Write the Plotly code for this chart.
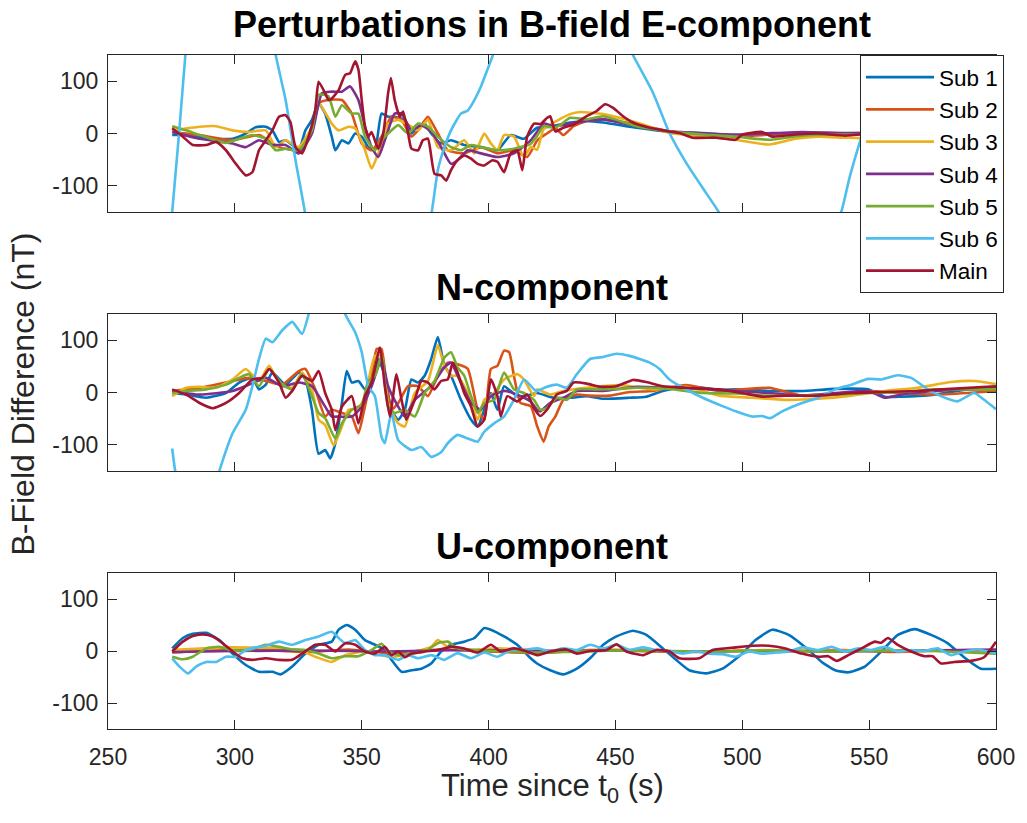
import plotly.graph_objects as go

# ---------------- colours / names ----------------
NAMES = ["Sub 1", "Sub 2", "Sub 3", "Sub 4", "Sub 5", "Sub 6", "Main"]
COLORS = ["#0072BD", "#D95319", "#EDB120", "#7E2F8E", "#77AC30", "#4DBEEE", "#A2142F"]
PANEL_TITLES = ["Perturbations in B-field E-component", "N-component", "U-component"]
X_TICKS = [250, 300, 350, 400, 450, 500, 550, 600]
Y_TICKS = [-100, 0, 100]

# ---------------- E component ----------------
E_SUB1_T = [275.3, 280.8, 286.1, 292.6, 299.1, 304.3, 308.2, 312.2, 314.8, 317.4, 320.0, 322.6, 325.2, 327.8, 330.4, 333.0, 335.6, 338.2, 339.6, 342.2, 344.8, 347.4, 350.0, 352.6, 355.2, 357.8, 360.4, 363.0, 367.0, 369.6, 372.2, 374.8, 377.4, 381.3, 385.2, 390.4, 397.0, 403.5, 408.7, 413.9, 419.1, 424.4, 432.1, 438.7, 445.2, 458.3, 471.3, 484.4, 497.4, 510.5, 523.5, 540.5, 555, 570, 585, 600]
E_SUB1_V = [-3, -3, -6, -10, -10, 0, 12, 13, 6, -16, -13, -22, -32, 6, 26, 58, 38, -6, -32, -13, -19, 0, -6, -26, -32, 38, 32, 32, 26, 0, 13, 19, 0, -19, -13, -22, -26, -32, -3, -10, 11, 13, 21, 24, 21, 11, 3, 1, -4, -2, 1, -2, 2, 0, 3, -4]

E_SUB2_T = [275.3, 286.1, 299.1, 309.5, 317.4, 325.2, 330.4, 333.0, 336.9, 342.2, 346.1, 350.0, 353.9, 357.8, 361.7, 365.7, 369.6, 372.2, 376.1, 380.0, 383.9, 390.4, 397.0, 403.5, 410.0, 415.2, 419.2, 423.0, 426.3, 429.5, 433.5, 438.7, 445.2, 458.3, 471.3, 484.4, 497.4, 510.5, 523.5, 540.5, 555, 575, 600]
E_SUB2_V = [3, -3, -13, -3, -26, -32, 13, 58, 64, 64, 38, -19, -32, -6, 32, 26, -6, 6, 32, 0, -32, -38, -26, -38, -32, -45, -13, 0, 10, -3, 14, 24, 27, 17, 4, -2, -6, -2, 1, -2, -3, 2, -2]

E_SUB3_T = [275.3, 286.1, 292.6, 299.1, 305.6, 312.2, 316.1, 320.0, 325.2, 330.4, 333.0, 338.2, 340.9, 344.8, 347.4, 351.3, 353.9, 356.5, 360.4, 364.4, 369.6, 372.2, 376.1, 380.0, 385.2, 390.4, 394.4, 398.3, 400.9, 403.5, 406.1, 410.0, 413.9, 416.6, 419.1, 421.7, 426.9, 432.1, 436.1, 445.2, 458.3, 471.3, 484.4, 497.4, 510.5, 520.9, 530.0, 540.5, 555, 575, 600]
E_SUB3_V = [6, 13, 14, 6, 3, 6, -26, -13, -26, 13, 58, 19, 6, 13, 10, -32, -67, -38, 19, 26, 13, 6, 26, -26, -32, -13, -38, 0, -19, -32, -3, -6, -45, -26, -31, 8, 24, 37, 41, 37, 21, 1, -5, -12, -21, -10, -6, -8, -10, -6, -3]

E_SUB4_T = [275.3, 286.1, 299.1, 304.3, 309.5, 314.8, 320.0, 325.2, 330.4, 334.3, 338.2, 342.2, 345.4, 348.7, 351.3, 353.9, 356.5, 359.1, 363.0, 365.7, 369.6, 373.5, 377.4, 381.3, 385.2, 387.8, 391.8, 397.0, 403.5, 410.0, 416.6, 421.8, 425.6, 438.7, 445.2, 458.3, 471.3, 497.4, 523.5, 540.5, 560, 580, 600]
E_SUB4_V = [3, -10, -19, -26, -13, -22, -22, -38, 0, 77, 80, 80, 90, 64, 13, -26, -45, -13, 38, 38, 6, 16, 3, -26, -58, -51, -32, -38, -45, -38, -13, 19, 14, 24, 27, 14, 4, -2, 3, 1, 2, 0, 1]

E_SUB5_T = [275.3, 280.8, 286.1, 292.6, 296.5, 301.7, 306.9, 312.2, 316.1, 320.0, 325.2, 330.4, 333.0, 336.9, 339.6, 342.2, 346.1, 348.7, 351.3, 355.2, 357.8, 360.4, 364.4, 368.3, 372.2, 376.1, 380.0, 385.2, 389.1, 393.1, 397.0, 403.5, 410.0, 416.6, 419.1, 421.7, 425.6, 428.0, 432.1, 438.7, 445.2, 458.3, 471.3, 484.4, 497.4, 510.5, 523.5, 540.5, 560, 580, 600]
E_SUB5_V = [14, 6, -3, -13, -18, -10, -3, -10, -32, -29, -32, 6, 74, 71, 32, 54, 38, 38, -6, -32, -13, 0, 16, 0, 19, 13, -6, -26, -32, -22, -26, -32, -29, -20, -5, 14, 11, 15, 30, 27, 33, 14, 4, -2, -6, -12, -4, -2, -3, 1, 0]

E_SUB6_T = [275.3, 278.0, 280.5, 284.0, 290.0, 298.0, 306.0, 312.0, 316.1, 320.0, 323.9, 327.5, 333.0, 345.0, 360.0, 370.0, 377.7, 380.0, 382.6, 385.2, 389.1, 391.8, 394.4, 397.0, 401.5, 410.0, 425.0, 440.0, 450.0, 457.0, 464.8, 471.3, 477.9, 484.4, 490.6, 500.0, 515.0, 530.0, 539.0, 542.5, 550.0, 560.0, 575.0, 590.0, 600.0]
E_SUB6_V = [-150, 0, 150, 330, 480, 540, 440, 270, 150, 64, -51, -147, -330, -560, -520, -350, -147, -70, -26, 6, 38, 44, 64, 90, 147, 260, 360, 300, 220, 149, 78, 1, -56, -104, -149, -230, -290, -250, -150, -80, 40, 180, 330, 420, 460]

E_MAIN_T = [275.3, 279.5, 283.4, 288.7, 292.6, 296.5, 300.4, 304.3, 306.9, 309.5, 312.2, 314.8, 317.4, 320.0, 321.9, 323.9, 326.5, 329.1, 331.7, 333.0, 335.6, 336.9, 338.2, 340.9, 343.5, 345.4, 347.4, 348.7, 350.0, 351.3, 352.6, 353.9, 356.5, 358.5, 360.4, 361.5, 363.0, 365.0, 366.3, 368.3, 369.6, 372.2, 374.1, 376.1, 378.7, 381.3, 383.3, 385.2, 387.8, 390.4, 393.1, 395.7, 398.3, 401.5, 403.5, 406.1, 408.7, 411.3, 413.3, 415.2, 417.9, 420.5, 423.1, 424.3, 426.3, 429.5, 433.5, 438.7, 442.6, 445.9, 449.1, 453.0, 456.9, 463.5, 471.3, 475.2, 480.4, 489.6, 497.4, 500.0, 507.8, 511.8, 520.9, 530.0, 540.5, 555, 570, 585, 600]
E_MAIN_V = [10, -6, -22, -22, -16, -32, -58, -80, -74, -32, -13, 6, 32, 35, 22, -26, -38, -6, 45, 99, 77, 64, 67, 83, 112, 115, 138, 122, 64, 13, -6, 3, -29, 0, 77, 106, 64, 32, 42, 0, -29, -32, -13, -10, -77, -80, -90, -70, -51, -42, -48, -58, -61, -51, -54, -74, -38, -32, -70, -6, 19, 18, 30, 33, 4, 11, 17, 33, 43, 56, 49, 33, 21, 11, 4, 1, -8, -8, -12, -2, 3, -6, -2, 0, -4, 2, -2, 1, -3]

# ---------------- N component ----------------
N_SUB1_T = [275.3, 280.8, 288.7, 296.5, 301.7, 306.9, 309.5, 312.2, 314.8, 320.0, 325.2, 327.8, 330.4, 333.0, 335.6, 337.6, 339.6, 342.2, 344.1, 346.1, 348.7, 351.3, 353.9, 356.5, 359.1, 361.7, 364.4, 367.0, 369.6, 372.2, 374.8, 377.4, 380.0, 382.6, 385.2, 389.1, 393.1, 395.7, 398.3, 400.9, 403.5, 406.1, 411.3, 416.6, 419.1, 425.6, 432.1, 438.7, 445.2, 455.6, 462.2, 468.7, 477.8, 484.4, 490.9, 497.4, 510.5, 523.5, 536.6, 549.6, 556.1, 562.6, 575.7, 588.8, 600]
N_SUB1_V = [-1, -4, -10, -1, 19, 28, 6, 15, 38, 15, 38, 25, -33, -117, -110, -126, -97, -20, 41, 19, 22, 6, 15, 64, 32, -33, -52, -33, 25, 19, 32, 64, 106, 51, 32, -14, -52, -65, -33, -1, -33, 12, -7, -4, -1, -10, -10, -7, -12, -10, -8, 3, 11, 9, 5, 6, 3, 3, 7, 6, -8, -8, -4, 6, 9]

N_SUB2_T = [275.3, 286.1, 299.1, 305.6, 312.2, 318.7, 325.2, 327.8, 331.7, 335.6, 338.2, 342.2, 346.1, 348.7, 351.3, 353.9, 355.9, 357.8, 359.8, 361.7, 364.4, 368.3, 372.2, 376.1, 380.0, 383.9, 387.8, 391.8, 395.7, 398.3, 400.9, 403.5, 406.1, 408.1, 410.0, 412.6, 416.6, 419.2, 421.7, 423.7, 426.3, 429.5, 434.8, 440.0, 447.8, 455.6, 464.8, 477.8, 490.9, 510.5, 523.5, 536.6, 549.6, 562.6, 575.7, 588.8, 600]
N_SUB2_V = [3, 9, 22, 28, 22, 15, 41, 45, 6, -46, -33, -39, -46, -78, -26, 32, 83, 83, 12, -33, -20, 12, 12, -7, 32, 57, 54, 45, -33, -52, 45, 51, 80, 77, 32, -20, -26, -65, -94, -65, -46, -14, -4, -6, -6, 1, 3, 14, 3, 9, -6, -4, 3, -1, -4, -1, 3]

N_SUB3_T = [275.3, 280.8, 286.1, 292.6, 299.1, 304.3, 309.5, 313.5, 317.4, 322.6, 326.5, 330.4, 333.0, 335.6, 338.9, 342.2, 344.8, 348.7, 351.3, 355.2, 357.8, 360.4, 364.4, 367.0, 370.9, 376.1, 380.0, 382.6, 385.2, 387.8, 391.8, 395.7, 398.3, 402.2, 406.1, 411.3, 413.9, 417.9, 419.1, 424.3, 429.5, 438.7, 451.7, 464.8, 477.8, 490.9, 503.9, 517.0, 530.0, 543.1, 556.1, 569.2, 582.2, 591.4, 600]
N_SUB3_V = [-7, 9, 11, 9, 25, 45, 22, 51, 19, 9, 38, 6, -52, -62, -101, -65, -33, -30, -7, 70, 70, -20, -59, -65, -1, 22, 90, 51, 32, 32, -1, -52, -14, -1, 25, 35, 25, -7, 6, -4, 3, 9, 14, 6, 11, -6, -10, -14, -12, -6, 3, 9, 20, 22, 16]

N_SUB4_T = [275.3, 286.1, 299.1, 305.6, 312.2, 318.7, 325.2, 330.4, 335.6, 338.2, 340.9, 346.1, 350.0, 353.9, 357.8, 360.4, 364.4, 367.0, 370.9, 377.4, 382.6, 385.2, 387.8, 390.4, 393.1, 397.0, 400.9, 406.1, 411.3, 416.6, 419.1, 420.4, 424.3, 429.5, 434.8, 445.2, 458.3, 471.3, 484.4, 497.4, 510.5, 523.5, 536.6, 549.6, 556.1, 562.6, 575.7, 588.8, 600]
N_SUB4_V = [3, -4, 3, 15, 28, 12, 19, 12, -27, -46, -46, -46, -27, 12, 64, 12, -27, -46, -14, 12, 48, 57, 32, 6, -20, -33, -7, 3, -4, -17, -33, -36, -20, -10, 3, 3, 11, 9, 7, 3, -1, -6, -1, 3, -10, -4, 3, 6, 7]

N_SUB5_T = [275.3, 280.8, 288.7, 296.5, 301.7, 305.6, 309.5, 313.5, 318.7, 322.6, 326.5, 330.4, 333.0, 335.6, 339.6, 342.2, 346.1, 350.0, 352.6, 355.2, 357.8, 360.4, 363.0, 367.0, 370.9, 374.8, 378.7, 382.6, 385.2, 387.8, 390.4, 393.1, 395.7, 398.3, 402.2, 406.1, 410.0, 413.9, 417.9, 420.4, 423.0, 426.9, 430.8, 434.8, 442.6, 451.7, 458.3, 471.3, 484.4, 497.4, 510.5, 523.5, 536.6, 549.6, 562.6, 575.7, 588.8, 600]
N_SUB5_V = [-1, 3, 6, 15, 28, 35, 12, 45, 15, 6, 35, -7, -39, -49, -88, -59, -33, -23, 22, 32, 70, -27, -39, -33, -46, -1, 22, 67, 77, 48, 32, -7, -39, -20, -14, 38, 6, -1, -14, -33, -30, -10, -14, 6, 6, 7, 9, 7, -1, -2, -6, -6, -4, -1, 1, 6, 6, 6]

N_SUB6_T = [275.3, 276.5, 280.0, 286.0, 291.0, 293.9, 299.1, 304.3, 306.9, 309.5, 312.2, 314.8, 318.7, 322.6, 326.5, 329.1, 333.0, 337.0, 341.0, 343.5, 347.4, 350.0, 352.6, 355.2, 357.8, 359.1, 361.7, 364.4, 369.6, 373.5, 377.4, 381.3, 383.9, 387.8, 391.8, 395.7, 398.3, 402.2, 406.1, 410.0, 414.0, 417.9, 419.1, 423.0, 426.9, 430.8, 434.8, 440.0, 445.2, 450.4, 455.6, 463.5, 467.4, 471.3, 477.8, 484.4, 492.2, 497.4, 503.9, 507.8, 511.1, 515.7, 523.5, 530.0, 536.6, 543.1, 549.6, 554.8, 561.3, 566.6, 573.1, 578.3, 584.8, 591.4, 595.3, 600]
N_SUB6_V = [-107, -150, -220, -240, -200, -150, -78, -33, 12, 64, 103, 96, 119, 135, 112, 150, 230, 260, 210, 150, 115, 77, 12, -7, -85, -97, -39, -91, -110, -104, -123, -114, -97, -81, -88, -94, -75, -59, -46, -14, 25, 6, 3, 11, 15, 9, 35, 64, 68, 74, 70, 57, 45, 25, 6, -10, -26, -36, -46, -45, -49, -36, -20, -10, 6, 15, 26, 25, 33, 28, 6, -7, -17, -1, -14, -32]

N_MAIN_T = [275.3, 280.8, 286.1, 291.3, 296.5, 301.7, 306.9, 310.8, 313.5, 317.4, 320.0, 322.6, 326.5, 330.4, 333.0, 335.6, 338.2, 339.6, 342.2, 346.1, 348.7, 351.3, 353.9, 357.2, 359.1, 361.1, 363.7, 365.7, 367.6, 370.9, 373.5, 376.1, 378.7, 381.3, 383.9, 385.9, 387.8, 390.4, 393.1, 395.7, 398.3, 400.9, 403.5, 404.8, 407.4, 411.3, 415.2, 417.9, 420.4, 423.0, 426.9, 430.8, 433.5, 438.7, 443.9, 450.4, 456.9, 462.2, 468.7, 477.8, 490.9, 500.0, 507.8, 517.0, 530.0, 543.1, 556.1, 569.2, 582.2, 600]
N_MAIN_V = [6, -4, -20, -30, -20, -1, 25, 28, 45, 19, -10, 3, 32, 22, 41, -1, -33, -72, -27, -7, -59, -7, 19, 86, 12, -46, 35, -14, -52, -14, 22, 19, 6, 22, 25, 57, 38, -1, -27, -65, -52, 25, -7, -46, -7, -17, -4, -30, -45, -33, -4, 3, 19, 17, 11, 12, 24, 20, 12, 9, 6, -1, -8, -6, -6, -1, 1, 3, 7, 12]

# ---------------- U component ----------------
U_SUB1_T = [275.3, 279.5, 283.4, 288.7, 293.9, 299.1, 304.3, 309.5, 314.8, 318.0, 322.6, 327.8, 333.0, 338.2, 340.9, 344.1, 347.4, 351.3, 355.2, 359.1, 361.7, 365.7, 369.6, 373.5, 377.4, 381.3, 385.2, 390.4, 394.4, 398.3, 400.9, 406.1, 411.3, 416.6, 419.1, 424.3, 429.5, 434.8, 440.0, 445.2, 450.4, 456.9, 462.2, 468.7, 473.9, 479.1, 485.7, 492.2, 500.0, 505.2, 511.8, 518.3, 526.1, 531.3, 536.6, 541.8, 548.3, 554.8, 561.3, 567.9, 574.4, 580.9, 587.4, 594.0, 600]
U_SUB1_V = [5, 25, 33, 35, 21, -5, -27, -40, -40, -45, -30, -5, 12, 18, 41, 50, 41, 21, 12, 2, -17, -40, -37, -34, -24, -1, 12, 18, 25, 44, 41, 28, 12, -14, -24, -37, -45, -34, -14, 12, 28, 39, 31, 5, -17, -37, -43, -34, -5, 21, 41, 31, 2, -21, -37, -41, -30, -1, 31, 42, 31, 15, -12, -34, -34]

U_SUB2_T = [275.3, 290, 310, 330, 345, 360, 380, 400, 420, 440, 460, 480, 500, 520, 540, 560, 580, 600]
U_SUB2_V = [-3, 1, 2, -2, 3, -4, 3, -1, -4, 2, 0, -2, 1, 0, 2, -2, 1, -4]

U_SUB3_T = [275.3, 299.1, 325.2, 331.7, 338.2, 343.5, 351.3, 361.7, 369.6, 377.4, 380.0, 383.9, 390.4, 403.5, 416.6, 430, 450, 470, 490, 510, 530, 550, 570, 590, 600]
U_SUB3_V = [2, 7, 2, -11, -21, -8, -1, -12, -3, 8, 21, 8, 2, 5, 2, 1, 3, 0, -1, 2, 0, 1, 0, 2, 0]

U_SUB4_T = [275.3, 300, 330, 360, 390, 420, 450, 480, 510, 540, 570, 600]
U_SUB4_V = [-2, 0, 1, -1, 2, 0, 1, -1, 0, -1, 1, 3]

U_SUB5_T = [275.3, 279.5, 283.4, 288.7, 293.9, 299.1, 305.6, 312.2, 317.4, 322.6, 327.8, 333.0, 338.2, 343.5, 348.7, 353.9, 357.8, 360.4, 364.4, 369.6, 374.8, 380.0, 383.9, 387.8, 393.1, 403.5, 416.6, 430, 450, 470, 490, 510, 530, 550, 570, 585, 600]
U_SUB5_V = [-11, -16, -11, 5, 8, 1, 2, 12, 8, 3, 2, -5, -14, -10, -10, 2, 14, -1, -8, -5, -1, 15, 18, 5, 2, 0, -3, -2, 1, 0, -1, 1, -1, 0, 1, -2, -5]

U_SUB6_T = [275.3, 278.2, 281.5, 284.7, 288.7, 292.6, 296.5, 300.4, 304.3, 308.2, 312.2, 317.4, 322.6, 327.8, 333.0, 338.2, 340.9, 343.5, 347.4, 351.3, 355.2, 359.1, 364.4, 368.3, 372.2, 377.4, 382.6, 387.8, 393.1, 398.3, 403.5, 408.7, 413.9, 419.1, 424.3, 429.5, 434.8, 440.0, 445.2, 450.4, 455.6, 460.9, 466.1, 471.3, 476.5, 481.7, 487.0, 492.2, 497.4, 502.6, 507.8, 513.1, 518.3, 523.5, 530.0, 535.2, 540.5, 545.7, 550.9, 556.1, 561.3, 566.6, 571.8, 577.0, 582.2, 587.4, 592.7, 600]
U_SUB6_V = [-14, -30, -43, -30, -21, -21, -11, -11, 2, 7, 10, 18, 12, 21, 28, 37, 25, 15, 21, 2, -8, -8, -17, -8, -14, -8, -17, -4, -14, -3, -11, 2, 2, 5, 0, 5, 2, 12, 5, 12, 2, 7, 2, 0, -5, -1, -5, -6, -11, -1, -5, -3, -1, 7, 2, 8, -1, 5, 2, 8, -1, 2, 0, 5, -8, -1, 3, -5]

U_MAIN_T = [275.3, 279.5, 283.4, 287.4, 291.3, 295.2, 299.1, 303.0, 306.9, 312.2, 317.4, 322.6, 326.5, 331.7, 335.6, 339.6, 343.5, 347.4, 351.3, 355.2, 359.1, 361.7, 364.4, 367.0, 369.6, 374.8, 380.0, 385.2, 390.4, 395.7, 400.9, 404.8, 410.0, 415.2, 419.1, 424.3, 430.8, 434.8, 440.0, 446.5, 450.4, 454.3, 460.9, 466.1, 471.3, 475.2, 483.0, 488.3, 497.4, 503.9, 510.5, 517.0, 523.5, 530.0, 533.9, 537.2, 541.8, 547.0, 552.2, 554.8, 557.4, 561.3, 566.6, 571.8, 575.0, 578.3, 583.5, 590.1, 595.3, 600]
U_MAIN_V = [-1, 18, 29, 32, 28, 15, -1, -14, -17, -14, -17, -17, -5, 12, 12, -1, 15, 12, -1, -5, 8, -8, -1, -12, -5, -1, 2, 8, 5, -3, 12, -1, 5, -1, -8, -1, 3, -5, 0, 2, 13, -1, -8, 2, -1, -14, -14, 2, 7, 10, 10, 5, -5, -11, -10, -19, -8, 5, 18, 16, 25, 12, -1, -10, -10, -24, -21, -19, -12, 18]

PANELS = [
    [(E_SUB1_T, E_SUB1_V), (E_SUB2_T, E_SUB2_V), (E_SUB3_T, E_SUB3_V), (E_SUB4_T, E_SUB4_V),
     (E_SUB5_T, E_SUB5_V), (E_SUB6_T, E_SUB6_V), (E_MAIN_T, E_MAIN_V)],
    [(N_SUB1_T, N_SUB1_V), (N_SUB2_T, N_SUB2_V), (N_SUB3_T, N_SUB3_V), (N_SUB4_T, N_SUB4_V),
     (N_SUB5_T, N_SUB5_V), (N_SUB6_T, N_SUB6_V), (N_MAIN_T, N_MAIN_V)],
    [(U_SUB1_T, U_SUB1_V), (U_SUB2_T, U_SUB2_V), (U_SUB3_T, U_SUB3_V), (U_SUB4_T, U_SUB4_V),
     (U_SUB5_T, U_SUB5_V), (U_SUB6_T, U_SUB6_V), (U_MAIN_T, U_MAIN_V)],
]

FONT = "Liberation Sans, Arial, Helvetica, sans-serif"
AX = "#262626"

# figure geometry (pixels)
W, H = 1027, 823
L, R, T, B = 108, 25, 55, 94
PH = H - T - B
PANEL_PX = [(55, 212), (314, 471), (573, 729)]  # top/bottom pixel rows of each axes


def py2paper(py):
    return (H - B - py) / PH


fig = go.Figure()
for p, series in enumerate(PANELS):
    xa = "x" if p == 0 else f"x{p+1}"
    ya = "y" if p == 0 else f"y{p+1}"
    for i, (t, v) in enumerate(series):
        fig.add_trace(go.Scatter(
            x=t, y=v, mode="lines", name=NAMES[i],
            line=dict(color=COLORS[i], width=2.6, shape="spline", smoothing=0.5),
            xaxis=xa, yaxis=ya, showlegend=(p == 0),
            legendgroup=NAMES[i], hoverinfo="skip",
        ))

layout = dict(
    width=W, height=H, margin=dict(l=L, r=R, t=T, b=B),
    paper_bgcolor="white", plot_bgcolor="white",
    font=dict(family=FONT, size=22, color=AX),
    legend=dict(x=1.009, xanchor="right", y=1.0, yanchor="top",
                bordercolor=AX, borderwidth=1, bgcolor="white",
                font=dict(family=FONT, size=22.5, color="black"),
                tracegroupgap=0, itemwidth=68, traceorder="grouped"),
    annotations=[],
)

for p, (top, bot) in enumerate(PANEL_PX):
    sfx = "" if p == 0 else str(p + 1)
    dom = [py2paper(bot), py2paper(top)]
    layout["xaxis" + sfx] = dict(
        domain=[0, 1], anchor="y" + sfx, range=[250, 600],
        tickvals=X_TICKS, ticktext=[str(v) for v in X_TICKS],
        showticklabels=(p == 2), ticks="inside", ticklen=9, tickwidth=1, tickcolor=AX,
        showline=True, linecolor=AX, linewidth=1.2, mirror="allticks",
        showgrid=False, zeroline=False, ticklabelstandoff=7,
        tickfont=dict(family=FONT, size=23, color=AX),
    )
    layout["yaxis" + sfx] = dict(
        domain=dom, anchor="x" + sfx, range=[-150, 150],
        tickvals=Y_TICKS, ticktext=[str(v) for v in Y_TICKS],
        ticks="inside", ticklen=9, tickwidth=1, tickcolor=AX,
        showline=True, linecolor=AX, linewidth=1.2, mirror="allticks",
        showgrid=False, zeroline=False, ticklabelstandoff=4,
        tickfont=dict(family=FONT, size=23, color=AX),
    )
    title_y = [25, 287, 546][p]
    layout["annotations"].append(dict(
        text=f"<b>{PANEL_TITLES[p]}</b>", xref="paper", yref="paper",
        x=0.5, y=py2paper(title_y), xanchor="center", yanchor="middle",
        showarrow=False, font=dict(family=FONT, size=36, color="black"),
    ))

layout["annotations"].append(dict(
    text="B-Field Difference (nT)", xref="paper", yref="paper",
    x=(22 - L) / (W - L - R), y=py2paper(394), xanchor="center", yanchor="middle",
    textangle=-90, showarrow=False, font=dict(family=FONT, size=32, color=AX),
))
layout["annotations"].append(dict(
    text="Time since t<sub>0</sub> (s)", xref="paper", yref="paper",
    x=0.5, y=py2paper(788), xanchor="center", yanchor="middle",
    showarrow=False, font=dict(family=FONT, size=31, color=AX),
))

fig.update_layout(**layout)
fig.write_html("out.html")
